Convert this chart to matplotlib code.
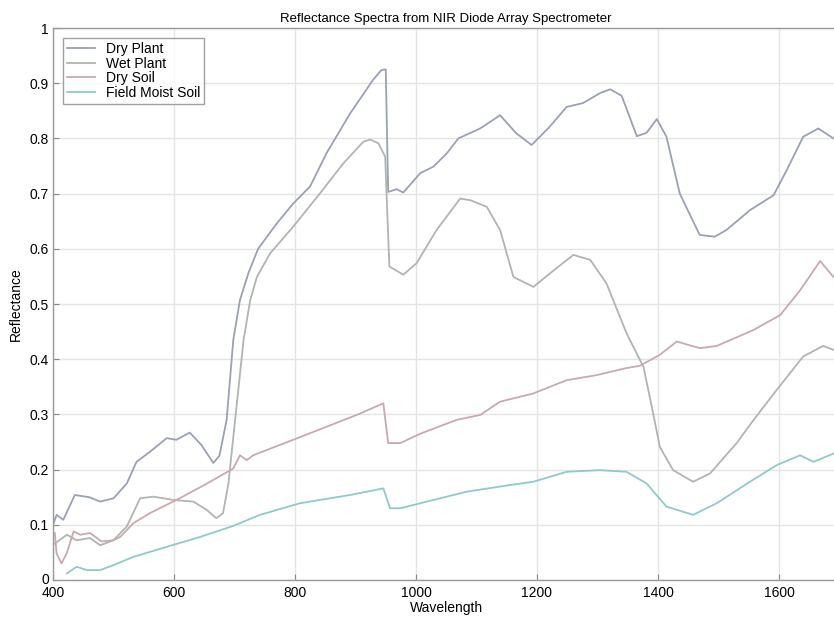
import matplotlib
matplotlib.use("Agg")
import matplotlib.pyplot as plt
from matplotlib.transforms import ScaledTranslation

plt.rcParams['font.family'] = ['Liberation Sans', 'DejaVu Sans']

title = "Reflectance Spectra from NIR Diode Array Spectrometer"
xlabel = "Wavelength"
ylabel = "Reflectance"
labels = ["Dry Plant", "Wet Plant", "Dry Soil", "Field Moist Soil"]

dry_plant_x = [400, 406, 417, 436, 460, 478, 500, 522, 538, 560, 588, 604, 626, 645, 665, 675, 687,
               698, 709, 723, 739, 770, 797, 825, 852, 891, 929, 943, 950, 954, 968, 979, 1007,
               1029, 1051, 1070, 1106, 1139, 1165, 1191, 1220, 1249, 1276, 1304, 1321, 1340,
               1365, 1381, 1398, 1414, 1436, 1469, 1494, 1513, 1552, 1591, 1613, 1640, 1665, 1690]
dry_plant_y = [0.10, 0.118, 0.109, 0.154, 0.150, 0.142, 0.148, 0.175, 0.214, 0.232, 0.257, 0.254,
               0.267, 0.245, 0.212, 0.225, 0.29, 0.435, 0.507, 0.556, 0.60, 0.646, 0.682, 0.713,
               0.773, 0.845, 0.906, 0.924, 0.925, 0.703, 0.708, 0.702, 0.737, 0.749, 0.773, 0.80,
               0.818, 0.842, 0.81, 0.788, 0.82, 0.857, 0.864, 0.882, 0.889, 0.877, 0.804, 0.810,
               0.835, 0.803, 0.70, 0.625, 0.622, 0.634, 0.67, 0.697, 0.743, 0.803, 0.818, 0.80]

wet_plant_x = [403, 423, 439, 461, 478, 500, 522, 544, 566, 599, 632, 654, 670, 681, 690, 701,
               715, 726, 737, 759, 797, 841, 880, 913, 924, 938, 949, 956, 979, 1001, 1034,
               1073, 1090, 1117, 1139, 1161, 1194, 1222, 1260, 1288, 1315, 1348, 1376, 1392,
               1403, 1425, 1458, 1486, 1530, 1558, 1596, 1640, 1673, 1690]
wet_plant_y = [0.066, 0.082, 0.072, 0.076, 0.063, 0.072, 0.097, 0.148, 0.151, 0.145, 0.142,
               0.127, 0.112, 0.121, 0.175, 0.29, 0.435, 0.507, 0.549, 0.592, 0.64, 0.70, 0.755,
               0.794, 0.798, 0.791, 0.767, 0.568, 0.553, 0.574, 0.634, 0.691, 0.688, 0.676,
               0.634, 0.549, 0.531, 0.556, 0.589, 0.58, 0.537, 0.447, 0.386, 0.302, 0.241,
               0.199, 0.178, 0.193, 0.248, 0.29, 0.344, 0.405, 0.424, 0.417]

dry_soil_x = [403, 406, 414, 423, 434, 445, 461, 469, 480, 500, 511, 533, 560, 604, 650, 698,
              709, 720, 731, 797, 902, 946, 954, 974, 1007, 1067, 1106, 1139, 1194, 1249, 1298,
              1348, 1370, 1403, 1431, 1469, 1497, 1558, 1602, 1635, 1668, 1690]
dry_soil_y = [0.085, 0.048, 0.03, 0.049, 0.088, 0.082, 0.085, 0.079, 0.07, 0.072, 0.078, 0.103,
              0.121, 0.145, 0.172, 0.202, 0.226, 0.217, 0.226, 0.254, 0.299, 0.32, 0.248, 0.248,
              0.265, 0.29, 0.299, 0.323, 0.338, 0.362, 0.371, 0.384, 0.388, 0.408, 0.432, 0.42,
              0.424, 0.453, 0.48, 0.525, 0.578, 0.549]

moist_soil_x = [423, 439, 456, 478, 500, 533, 588, 643, 698, 742, 808, 891, 946, 957, 974, 1007,
                1084, 1155, 1194, 1249, 1304, 1348, 1381, 1414, 1458, 1497, 1552, 1596, 1635,
                1657, 1690]
moist_soil_y = [0.012, 0.024, 0.018, 0.018, 0.027, 0.042, 0.06, 0.078, 0.098, 0.118, 0.139,
                0.154, 0.166, 0.13, 0.13, 0.139, 0.16, 0.172, 0.178, 0.196, 0.199, 0.196, 0.175,
                0.133, 0.118, 0.139, 0.178, 0.208, 0.226, 0.214, 0.229]

xticks = [400, 600, 800, 1000, 1200, 1400, 1600]
yticks = [0, 0.1, 0.2, 0.3, 0.4, 0.5, 0.6, 0.7, 0.8, 0.9, 1]
yticklabels = ["0", "0.1", "0.2", "0.3", "0.4", "0.5", "0.6", "0.7", "0.8", "0.9", "1"]

colors = ["#9ba1b3", "#b0b5b0", "#c9a9b0", "#8fcaca"]
styles = ["-", "-", "-", "-"]

fig = plt.figure(figsize=(8.34, 6.2), dpi=100)
ax = fig.add_axes([53 / 834, 40 / 620, 786.5 / 834, 552 / 620])

series = [(dry_plant_x, dry_plant_y), (wet_plant_x, wet_plant_y),
          (dry_soil_x, dry_soil_y), (moist_soil_x, moist_soil_y)]
for (xs, ys), c, ls, lab in zip(series, colors, styles, labels):
    ax.plot(xs, ys, color=c, lw=1.3, ls=ls, label=lab)

ax.set_xlim(400, 1700)
ax.set_ylim(0, 1)
ax.set_xticks(xticks)
ax.set_yticks(yticks)
ax.set_yticklabels(yticklabels)
ax.tick_params(direction='in', length=4, labelsize=10, color='#888888')
ax.tick_params(axis='x', pad=4)
ax.tick_params(axis='y', pad=3)
# nudge the "0" label slightly up so it does not collide with "400"
lbl0 = ax.get_yticklabels()[0]
lbl0.set_transform(lbl0.get_transform() + ScaledTranslation(0, 2 / 100, fig.dpi_scale_trans))
ax.grid(True, color='#e4e4e4', lw=1.0)
ax.set_axisbelow(True)
for s in ax.spines.values():
    s.set_color('#999999')
    s.set_linewidth(1.0)

ax.set_title(title, fontsize=9.5, pad=4)
ax.set_xlabel(xlabel, fontsize=10, labelpad=1)
ax.set_ylabel(ylabel, fontsize=10, labelpad=5)

leg = ax.legend(loc='upper left', fontsize=10, frameon=True, fancybox=False,
                borderaxespad=0.7, handlelength=2.0, labelspacing=0.05,
                borderpad=0.3, handletextpad=0.8)
leg.get_frame().set_edgecolor('#888888')
leg.get_frame().set_linewidth(1.0)

fig.savefig("out.png", dpi=100)
